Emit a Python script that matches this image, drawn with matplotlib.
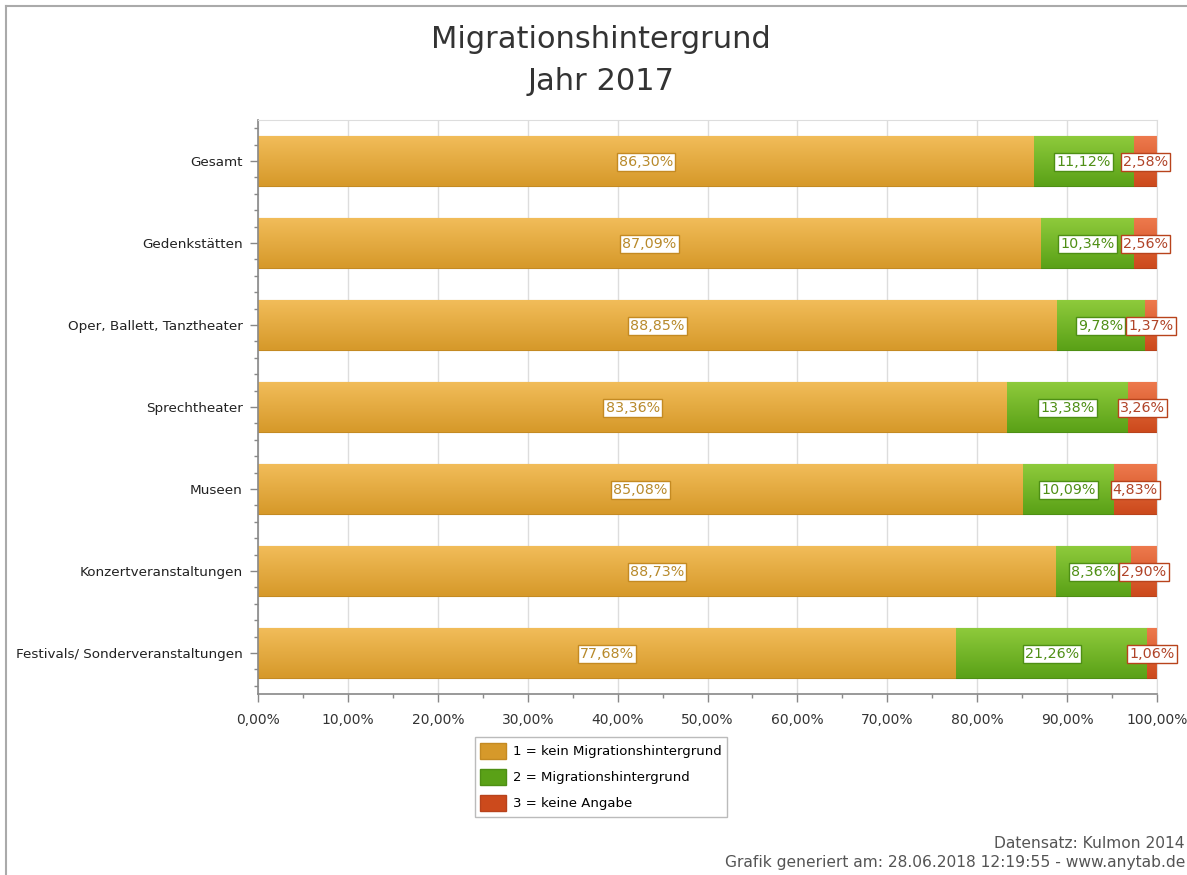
import numpy as np
import matplotlib
matplotlib.use("Agg")
import matplotlib.pyplot as plt
from matplotlib.colors import LinearSegmentedColormap
from matplotlib.patches import Patch
from matplotlib.lines import Line2D

categories = ["Gesamt", "Gedenkstätten", "Oper, Ballett, Tanztheater", "Sprechtheater",
              "Museen", "Konzertveranstaltungen", "Festivals/ Sonderveranstaltungen"]
kein_migration = [86.30, 87.09, 88.85, 83.36, 85.08, 88.73, 77.68]
migration = [11.12, 10.34, 9.78, 13.38, 10.09, 8.36, 21.26]
keine_angabe = [2.58, 2.56, 1.37, 3.26, 4.83, 2.90, 1.06]
series_names = ["1 = kein Migrationshintergrund", "2 = Migrationshintergrund", "3 = keine Angabe"]
x_ticks = [0, 10, 20, 30, 40, 50, 60, 70, 80, 90, 100]

plt.rcParams['font.family'] = ['DejaVu Sans']

# (top colour, bottom colour, edge, text colour)
styles = [
    ("#f2bd5a", "#d6992a", "#c48a22", "#b88a2c"),
    ("#8fcb3c", "#5aa117", "#4e8f14", "#4f8f16"),
    ("#ee7a4e", "#cc4a1c", "#b8431c", "#b04428"),
]

fig = plt.figure(figsize=(11.87, 8.75), dpi=100)
ax = fig.add_axes([258/1187, 1-694/875, (1157-258)/1187, (694-120)/875])

n = len(categories)
ypos = np.arange(n)
bar_h = 0.61
data = [kein_migration, migration, keine_angabe]

ax.set_xlim(0, 100)
ax.set_ylim(n - 0.5, -0.5)

grad = np.linspace(0, 1, 64).reshape(-1, 1)
left = np.zeros(n)
for vals, (ctop, cbot, cedge, ctext) in zip(data, styles):
    cmap = LinearSegmentedColormap.from_list("g", [ctop, cbot])
    bars = ax.barh(ypos, vals, left=left, height=bar_h, color=cbot, edgecolor=cedge,
                   linewidth=0.8, zorder=2)
    for b in bars:
        x0, y0 = b.get_x(), b.get_y()
        w, h = b.get_width(), b.get_height()
        im = ax.imshow(grad, cmap=cmap, aspect='auto', extent=(x0, x0 + w, y0 + h, y0),
                       zorder=2.5, interpolation='bilinear')
        im.set_clip_path(b)
    for i, (l, v) in enumerate(zip(left, vals)):
        ax.text(l + v / 2, i + 0.01, f"{v:.2f}%".replace(".", ","), ha='center', va='center',
                fontsize=10.3, color=ctext, zorder=5,
                bbox=dict(boxstyle='square,pad=0.15', facecolor='white', edgecolor=cedge,
                          linewidth=1.0))
    left = left + np.array(vals)

ax.set_xticks(x_ticks)
ax.set_xticklabels([f"{t:.2f}%".replace(".", ",") for t in x_ticks], fontsize=10, color="#333333")
ax.set_xticks(np.arange(5, 100, 10), minor=True)
ax.set_yticks(ypos)
ax.set_yticklabels(categories, fontsize=9.7, color="#222222")
minor_y = [c + d for c in ypos for d in (-0.4, -0.2, 0.2, 0.4)]
ax.set_yticks(minor_y, minor=True)
ax.tick_params(axis='both', which='major', length=6, color="#888888", width=1)
ax.tick_params(axis='both', which='minor', length=3, color="#888888", width=1)
ax.tick_params(axis='x', pad=8)
ax.tick_params(axis='y', pad=5)
ax.grid(axis='x', which='major', color="#dddddd", linewidth=1, zorder=0)
ax.set_axisbelow(True)
for s in ['top', 'right']:
    ax.spines[s].set_color("#dddddd")
for s in ['left', 'bottom']:
    ax.spines[s].set_color("#888888")
    ax.spines[s].set_linewidth(1.2)

fig.text(0.506, 1 - 39/875, "Migrationshintergrund", ha='center', va='center', fontsize=22, color="#333333")
fig.text(0.506, 1 - 81/875, "Jahr 2017", ha='center', va='center', fontsize=22, color="#333333")

handles = [Patch(facecolor=s[1], edgecolor=s[2]) for s in styles]
leg = fig.legend(handles, series_names, loc='upper center', bbox_to_anchor=(601/1187, 1 - 737/875),
                 fontsize=9.5, frameon=True, fancybox=False, edgecolor="#aaaaaa",
                 handlelength=1.9, handleheight=1.5, labelspacing=0.75, borderpad=0.45,
                 handletextpad=0.55, borderaxespad=0)
leg.get_frame().set_linewidth(1)

fig.text(1185/1187, 1 - 843/875, "Datensatz: Kulmon 2014", ha='right', va='center', fontsize=11.2, color="#555555")
fig.text(1185/1187, 1 - 862/875, "Grafik generiert am: 28.06.2018 12:19:55 - www.anytab.de", ha='right',
         va='center', fontsize=11.2, color="#555555")

# outer frame lines (left and top)
fig.add_artist(Line2D([6/1187, 6/1187], [0, 1 - 6/875], transform=fig.transFigure, color="#aaaaaa", linewidth=1.5))
fig.add_artist(Line2D([6/1187, 1], [1 - 6/875, 1 - 6/875], transform=fig.transFigure, color="#aaaaaa", linewidth=1.5))

fig.savefig("out.png", dpi=100)
